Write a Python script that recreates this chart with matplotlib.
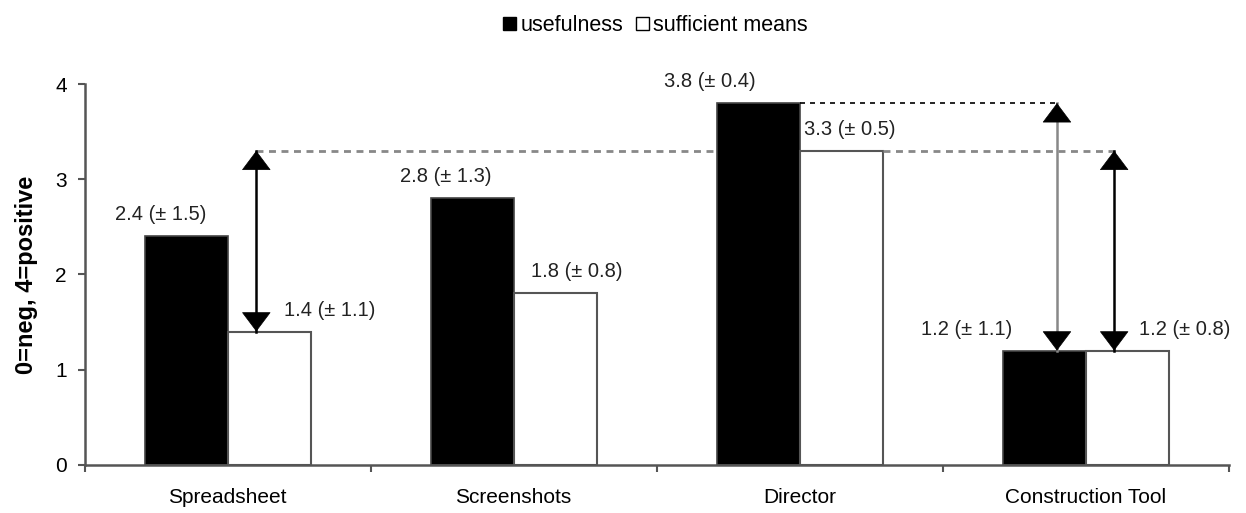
import matplotlib.pyplot as plt
import numpy as np
from matplotlib.patches import Patch

categories = ["Spreadsheet", "Screenshots", "Director", "Construction Tool"]
usefulness = [2.4, 2.8, 3.8, 1.2]
usefulness_sd = [1.5, 1.3, 0.4, 1.1]
sufficient = [1.4, 1.8, 3.3, 1.2]
sufficient_sd = [1.1, 0.8, 0.5, 0.8]


def double_arrow(ax, x, y_top, y_bot, shaft_color):
    # shaft, then black heads drawn on top
    ax.plot([x, x], [y_bot, y_top], color=shaft_color, lw=1.8, zorder=4)
    style = "-|>,head_length=0.6,head_width=0.45"
    for tip, tail in ((y_top, y_top - 0.01), (y_bot, y_bot + 0.01)):
        ax.annotate("", xy=(x, tip), xytext=(x, tail),
                    arrowprops=dict(arrowstyle=style, color="black", lw=0.5,
                                    mutation_scale=22, shrinkA=0, shrinkB=0),
                    zorder=5)


def main() -> None:
    plt.rcParams["font.family"] = ["Liberation Sans", "DejaVu Sans"]
    fig = plt.figure(figsize=(12.46, 5.13), dpi=100)
    ax = fig.add_axes([0.068, 0.094, 0.918, 0.742])

    x = np.arange(len(categories))
    w = 0.29
    ax.bar(x - w / 2, usefulness, w, color="black", edgecolor="#444444", linewidth=1.2)
    ax.bar(x + w / 2, sufficient, w, color="white", edgecolor="#555555", linewidth=1.5)

    # value labels (offsets in px, tuned by eye)
    u_off = [-26, -26, -48, -77]
    s_off = [61, 22, 9, 58]
    for i in range(len(categories)):
        ax.annotate(f"{usefulness[i]} (± {usefulness_sd[i]})", (x[i] - w / 2, usefulness[i]),
                    xytext=(u_off[i], 12), textcoords="offset pixels",
                    ha="center", va="bottom", fontsize=14.5, color="#222222")
        ax.annotate(f"{sufficient[i]} (± {sufficient_sd[i]})", (x[i] + w / 2, sufficient[i]),
                    xytext=(s_off[i], 12), textcoords="offset pixels",
                    ha="center", va="bottom", fontsize=14.5, color="#222222")

    # comparison lines against Director
    d = 2
    ax.plot([x[0] + 0.1, x[d] - w], [sufficient[d]] * 2, ls=(0, (2.5, 2)), color="#888888", lw=2)
    ax.plot([x[d] + w, x[3] + 0.1], [sufficient[d]] * 2, ls=(0, (2.5, 2)), color="#888888", lw=2)
    ax.plot([x[d], x[3] - 0.1], [usefulness[d]] * 2, ls=(0, (3, 3)), color="black", lw=1.2)

    double_arrow(ax, x[0] + 0.1, sufficient[d], sufficient[0], "black")
    double_arrow(ax, x[3] - 0.1, usefulness[d], usefulness[3], "#888888")
    double_arrow(ax, x[3] + 0.1, sufficient[d], sufficient[3], "black")

    ax.set_xlim(-0.5, 3.5)
    ax.set_ylim(0, 4)
    ax.set_yticks([0, 1, 2, 3, 4])
    ax.set_xticks(np.arange(-0.5, 3.6, 1.0))
    ax.set_xticklabels([])
    ax.set_xticks(x, minor=True)
    ax.set_xticklabels(categories, minor=True, fontsize=15)
    ax.tick_params(axis="x", which="minor", length=0, pad=17)
    ax.tick_params(axis="x", which="major", length=5, color="#555555", width=1.5)
    ax.tick_params(axis="y", length=5, color="#555555", width=1.5, labelsize=15, pad=8)
    for side in ("top", "right"):
        ax.spines[side].set_visible(False)
    for side in ("left", "bottom"):
        ax.spines[side].set_color("#555555")
        ax.spines[side].set_linewidth(1.8)
    ax.set_ylabel("0=neg, 4=positive", fontsize=17, fontweight="bold", labelpad=12)

    handles = [Patch(facecolor="black", edgecolor="black"),
               Patch(facecolor="white", edgecolor="black")]
    fig.legend(handles, ["usefulness", "sufficient means"], loc="upper center",
               bbox_to_anchor=(0.526, 1.0), ncol=2, frameon=False, fontsize=15.5,
               handlelength=0.6, handleheight=0.6, handletextpad=0.2, columnspacing=0.6,
               borderpad=0.2)

    fig.savefig("out.png", dpi=100)


if __name__ == "__main__":
    main()
